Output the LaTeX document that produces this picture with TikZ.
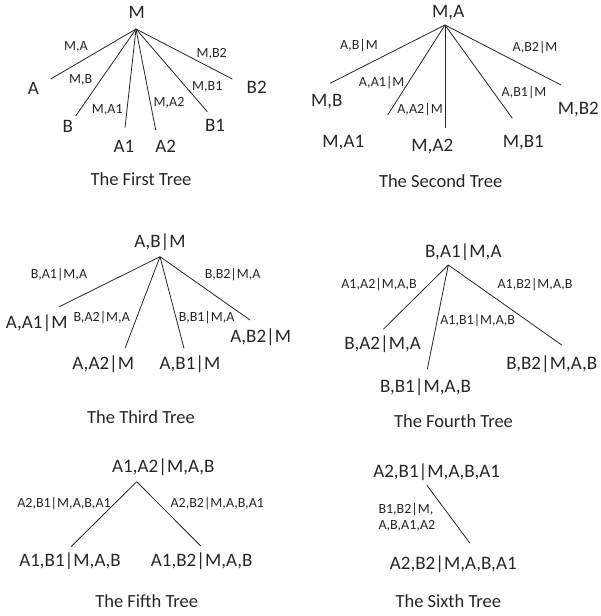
\documentclass[tikz,border=0pt]{standalone}
\usepackage{fontspec}
\setmainfont{Carlito}
\definecolor{ink}{HTML}{262626}
\begin{document}
\begin{tikzpicture}[x=1pt,y=-1pt,
  lab/.style={inner sep=0pt,text=ink,font=\fontsize{19}{21}\selectfont,text height=12.2pt,text depth=0pt},
  elab/.style={inner sep=0pt,text=ink,font=\fontsize{14}{16.7}\selectfont,text height=9pt,text depth=0pt},
  ttl/.style={inner sep=0pt,text=ink,font=\fontsize{18.5}{20}\selectfont,text height=11.9pt,text depth=0pt},
  edge/.style={line width=0.8pt,draw=ink}]
\useasboundingbox (0,0) rectangle (600,616);

% ---------- First tree ----------
\node[lab] (t1) at (136.7,12) {M};
\coordinate (r1) at (136,29);
\node[lab] (t1a) at (33.3,88.3) {A};
\node[lab] (t1b) at (67.7,126) {B};
\node[lab] (t1a1) at (124,146.7) {A1};
\node[lab] (t1a2) at (165.7,146.7) {A2};
\node[lab] (t1b1) at (215,125) {B1};
\node[lab] (t1b2) at (256.7,87.3) {B2};
\coordinate (e1a) at (50.7,79);
\coordinate (e1b) at (75.7,116);
\coordinate (e1a1) at (125,127.7);
\coordinate (e1a2) at (155.7,130);
\coordinate (e1b1) at (207.3,111.7);
\coordinate (e1b2) at (232.3,79);
\foreach \e in {e1a,e1b,e1a1,e1a2,e1b1,e1b2} \draw[edge] (r1) -- (\e);
\node[elab] (l1a) at (76,46) {M,A};
\node[elab] (l1b) at (80.7,79.3) {M,B};
\node[elab] (l1a1) at (107.3,109.3) {M,A1};
\node[elab] (l1a2) at (169,101.7) {M,A2};
\node[elab] (l1b1) at (207.3,86) {M,B1};
\node[elab] (l1b2) at (211.7,52.7) {M,B2};
\node[ttl] (title1) at (141,180) {The First Tree};

% ---------- Second tree ----------
\node[lab] (t2) at (448.3,11.7) {M,A};
\coordinate (r2) at (445,25);
\node[lab] (t2b) at (326.7,100) {M,B};
\node[lab] (t2a1) at (343.3,141.7) {M,A1};
\node[lab] (t2a2) at (432.3,145.7) {M,A2};
\node[lab] (t2b1) at (523.3,141.7) {M,B1};
\node[lab] (t2b2) at (578.3,108.3) {M,B2};
\coordinate (e2b) at (330,83.3);
\coordinate (e2a1) at (387.7,115);
\coordinate (e2a2) at (445,127.7);
\coordinate (e2b1) at (512.3,118.3);
\coordinate (e2b2) at (561,85);
\foreach \e in {e2b,e2a1,e2a2,e2b1,e2b2} \draw[edge] (r2) -- (\e);
\node[elab] (l2b) at (359,45) {A,B|M};
\node[elab] (l2a1) at (381.7,81.7) {A,A1|M};
\node[elab] (l2a2) at (420,109.3) {A,A2|M};
\node[elab] (l2b1) at (524,91.7) {A,B1|M};
\node[elab] (l2b2) at (535,46.7) {A,B2|M};
\node[ttl] (title2) at (440.7,181.7) {The Second Tree};

% ---------- Third tree ----------
\node[lab] (t3) at (160,241.7) {A,B|M};
\coordinate (r3) at (160,256.7);
\node[lab] (t3a1) at (36.7,322.7) {A,A1|M};
\node[lab] (t3a2) at (103.3,363.3) {A,A2|M};
\node[lab] (t3b1) at (190,363.3) {A,B1|M};
\node[lab] (t3b2) at (260.7,336) {A,B2|M};
\coordinate (e3a1) at (59.3,306.7);
\coordinate (e3a2) at (125,348.3);
\coordinate (e3b1) at (184,348.3);
\coordinate (e3b2) at (250,320);
\foreach \e in {e3a1,e3a2,e3b1,e3b2} \draw[edge] (r3) -- (\e);
\node[elab] (l3a1) at (59,274) {B,A1|M,A};
\node[elab] (l3a2) at (101.7,317.3) {B,A2|M,A};
\node[elab] (l3b1) at (206.7,317.3) {B,B1|M,A};
\node[elab] (l3b2) at (232.7,274) {B,B2|M,A};
\node[ttl] (title3) at (141,418) {The Third Tree};

% ---------- Fourth tree ----------
\node[lab] (t4) at (463.3,251.7) {B,A1|M,A};
\coordinate (r4) at (448.3,265);
\node[lab] (t4a2) at (382.7,343.3) {B,A2|M,A};
\node[lab] (t4b1) at (425.5,386.5) {B,B1|M,A,B};
\node[lab] (t4b2) at (551.7,363.3) {B,B2|M,A,B};
\coordinate (e4a2) at (383.3,329.3);
\coordinate (e4b1) at (427.3,369.3);
\coordinate (e4b2) at (561.7,345);
\foreach \e in {e4a2,e4b1,e4b2} \draw[edge] (r4) -- (\e);
\node[elab] (l4a2) at (379,284) {A1,A2|M,A,B};
\node[elab] (l4b1) at (477.7,320) {A1,B1|M,A,B};
\node[elab] (l4b2) at (535,284) {A1,B2|M,A,B};
\node[ttl] (title4) at (453.5,421.5) {The Fourth Tree};

% ---------- Fifth tree ----------
\node[lab] (t5) at (163.3,466.7) {A1,A2|M,A,B};
\coordinate (r5) at (136.7,481.7);
\node[lab] (t5b1) at (70,560) {A1,B1|M,A,B};
\node[lab] (t5b2) at (201.7,560) {A1,B2|M,A,B};
\coordinate (e5b1) at (71,546.7);
\coordinate (e5b2) at (200.7,546);
\foreach \e in {e5b1,e5b2} \draw[edge] (r5) -- (\e);
\node[elab] (l5b1) at (64,503.3) {A2,B1|M,A,B,A1};
\node[elab] (l5b2) at (217.3,503.3) {A2,B2|M,A,B,A1};
\node[ttl] (title5) at (146.7,601.7) {The Fifth Tree};

% ---------- Sixth tree ----------
\node[lab] (t6) at (436.7,471) {A2,B1|M,A,B,A1};
\coordinate (r6) at (426.7,485);
\node[lab] (t6b2) at (453.3,563.3) {A2,B2|M,A,B,A1};
\coordinate (e6b2) at (470,543.3);
\draw[edge] (r6) -- (e6b2);
\node[inner sep=0pt,text=ink,font=\fontsize{14}{15.5}\selectfont,align=left,anchor=north west] (l6b2) at (378.3,503.3) {B1,B2|M,\\A,B,A1,A2};
\node[ttl] (title6) at (448.3,602) {The Sixth Tree};
\end{tikzpicture}
\end{document}
